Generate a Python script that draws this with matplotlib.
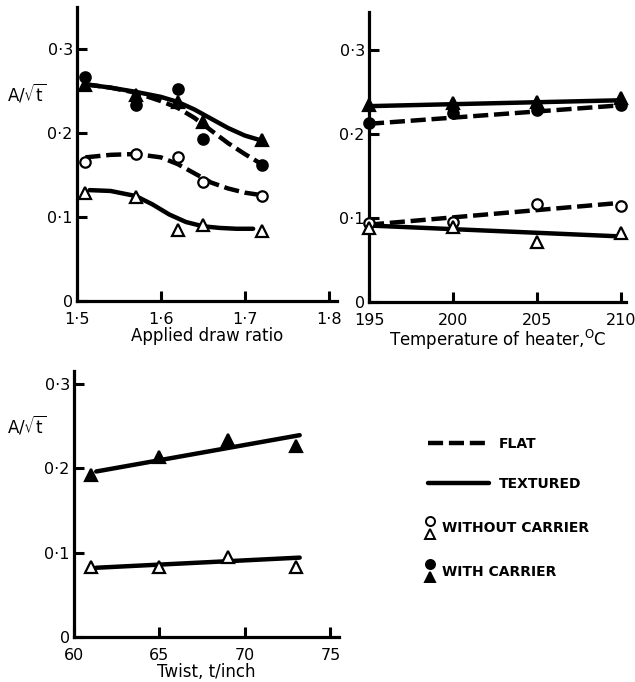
import matplotlib
matplotlib.use("Agg")
import matplotlib.pyplot as plt
from matplotlib.lines import Line2D
from matplotlib.legend_handler import HandlerBase

W, H = 635, 682

# --- applied draw ratio (top left) ---
draw_ratio = [1.51, 1.57, 1.62, 1.65, 1.72]
draw_flat_with = [0.267, 0.233, 0.252, 0.193, 0.162]      # filled circles
draw_tex_with = [0.257, 0.245, 0.237, 0.213, 0.192]       # filled triangles
draw_flat_without = [0.165, 0.175, 0.171, 0.142, 0.125]   # open circles
draw_tex_without = [0.129, 0.124, 0.085, 0.090, 0.083]    # open triangles
# hand-drawn curves
curve_x = [1.51, 1.54, 1.57, 1.60, 1.62, 1.64, 1.66, 1.68, 1.70, 1.72]
curve_tex_with = [0.258, 0.254, 0.249, 0.243, 0.237, 0.228, 0.217, 0.206, 0.197, 0.191]
curve_flat_with = [0.258, 0.254, 0.248, 0.238, 0.230, 0.218, 0.203, 0.188, 0.175, 0.163]
curve_flat_without = [0.171, 0.174, 0.175, 0.171, 0.163, 0.152, 0.141, 0.134, 0.129, 0.126]
curve_tex_without_x = [1.515, 1.54, 1.57, 1.59, 1.61, 1.63, 1.65, 1.67, 1.69, 1.71]
curve_tex_without = [0.132, 0.131, 0.125, 0.115, 0.103, 0.094, 0.089, 0.087, 0.086, 0.086]

# --- heater temperature (top right) ---
temp = [195, 200, 205, 210]
temp_tex_with = [0.234, 0.237, 0.238, 0.243]
temp_flat_with = [0.213, 0.225, 0.229, 0.234]
temp_flat_without = [0.094, 0.095, 0.117, 0.114]
temp_tex_without = [0.088, 0.089, 0.071, 0.082]
temp_fit_x = [195, 210]
temp_fit_tex_with = [0.233, 0.240]
temp_fit_flat_with = [0.212, 0.234]
temp_fit_flat_without = [0.092, 0.118]
temp_fit_tex_without = [0.091, 0.078]

# --- twist (bottom left) ---
twist = [61, 65, 69, 73]
twist_tex_with = [0.192, 0.213, 0.233, 0.226]
twist_tex_without = [0.083, 0.083, 0.095, 0.083]
twist_fit_x = [61.3, 73.2]
twist_fit_tex_with = [0.196, 0.239]
twist_fit_tex_without = [0.082, 0.094]

y_ticks = [0, 0.1, 0.2, 0.3]
y_ticklabels = ["0", "0\u00b71", "0\u00b72", "0\u00b73"]

plt.rcParams["font.family"] = ["DejaVu Sans"]
plt.rcParams["mathtext.fontset"] = "dejavusans"

LW = 3.2
DASH = (3.4, 1.3)
SOLID = dict(color="black", lw=LW, solid_capstyle="round", zorder=2)
DASHED = dict(color="black", lw=LW, dashes=DASH, dash_capstyle="butt", zorder=2)


def pts(ax, x, y, marker, filled):
    ms = 7.5 if marker == "o" else 8.5
    ax.plot(x, y, ls="none", marker=marker, ms=ms, mew=1.6, mec="black",
            mfc=("black" if filled else "white"), zorder=3, clip_on=False)


def panel(left, bottom, right, top, xlim, ylim, xticks, xticklabels, xlabel):
    ax = fig.add_axes([left / W, 1 - bottom / H, (right - left) / W, (bottom - top) / H])
    ax.set_xlim(*xlim)
    ax.set_ylim(*ylim)
    for s in ("top", "right"):
        ax.spines[s].set_visible(False)
    for s in ("left", "bottom"):
        ax.spines[s].set_linewidth(2.3)
    ax.set_yticks(y_ticks, y_ticklabels)
    ax.set_xticks(xticks, xticklabels)
    ax.tick_params(direction="in", length=7, width=2.2, labelsize=11.5)
    ax.tick_params(axis="y", pad=3)
    ax.tick_params(axis="x", pad=8)
    ax.set_xlabel(xlabel, fontsize=12, labelpad=0)
    ax.patch.set_alpha(0)
    return ax


fig = plt.figure(figsize=(W / 100, H / 100), dpi=100)

# top left
ax1 = panel(77, 301, 337, 7, (1.5, 1.81), (0, 0.35),
            [1.5, 1.6, 1.7, 1.8], ["1\u00b75", "1\u00b76", "1\u00b77", "1\u00b78"],
            "Applied draw ratio")
ax1.plot(curve_x, curve_tex_with, **SOLID)
ax1.plot(curve_x, curve_flat_with, **DASHED)
ax1.plot(curve_x, curve_flat_without, **DASHED)
ax1.plot(curve_tex_without_x, curve_tex_without, **SOLID)
pts(ax1, draw_ratio, draw_flat_with, "o", True)
pts(ax1, draw_ratio, draw_tex_with, "^", True)
pts(ax1, draw_ratio, draw_flat_without, "o", False)
pts(ax1, draw_ratio, draw_tex_without, "^", False)

# top right
ax2 = panel(369, 302, 626, 12, (195, 210.3), (0, 0.345),
            [195, 200, 205, 210], ["195", "200", "205", "210"],
            "Temperature of heater,$^{\\rm O}$C")
ax2.plot(temp_fit_x, temp_fit_tex_with, **SOLID)
ax2.plot(temp_fit_x, temp_fit_flat_with, **DASHED)
ax2.plot(temp_fit_x, temp_fit_flat_without, **DASHED)
ax2.plot(temp_fit_x, temp_fit_tex_without, **SOLID)
pts(ax2, temp, temp_flat_with, "o", True)
pts(ax2, temp, temp_tex_with, "^", True)
pts(ax2, temp, temp_flat_without, "o", False)
pts(ax2, temp, temp_tex_without, "^", False)

# bottom left
ax3 = panel(74, 637, 339, 371, (60, 75.5), (0, 0.315),
            [60, 65, 70, 75], ["60", "65", "70", "75"], "Twist, t/inch")
ax3.plot(twist_fit_x, twist_fit_tex_with, **SOLID)
ax3.plot(twist_fit_x, twist_fit_tex_without, **SOLID)
pts(ax3, twist, twist_tex_with, "^", True)
pts(ax3, twist, twist_tex_without, "^", False)

for yc in (93, 425):
    fig.text(27 / W, 1 - yc / H, r"A/$\sqrt{\mathrm{t}}$", fontsize=12,
             ha="center", va="center")


class StackHandler(HandlerBase):
    # circle above triangle, as in the printed key
    def create_artists(self, legend, orig, xd, yd, width, height, fontsize, trans):
        fc = orig.get_markerfacecolor()
        cx = -xd + width / 2
        cy = -yd + height / 2
        top = Line2D([cx], [cy + 0.5 * fontsize], ls="none", marker="o", ms=6.5,
                     mew=1.4, mec="black", mfc=fc, transform=trans)
        bot = Line2D([cx], [cy - 0.45 * fontsize], ls="none", marker="^", ms=7.5,
                     mew=1.4, mec="black", mfc=fc, transform=trans)
        return [top, bot]


line_handles = [Line2D([], [], **DASHED), Line2D([], [], **SOLID)]
leg1 = fig.legend(line_handles, ["FLAT", "TEXTURED"], loc="center left",
                  bbox_to_anchor=(428 / W, 1 - 464 / H), frameon=False,
                  handlelength=4.4, handletextpad=0.7, labelspacing=1.9,
                  borderpad=0, borderaxespad=0,
                  prop=dict(size=10, weight="bold"))

open_h = Line2D([], [], marker="o", mfc="white")
fill_h = Line2D([], [], marker="o", mfc="black")
leg2 = fig.legend([open_h, fill_h], ["WITHOUT CARRIER", "WITH CARRIER"],
                  loc="center left", bbox_to_anchor=(424 / W, 1 - 550 / H),
                  frameon=False, handlelength=0.9, handletextpad=0.4,
                  labelspacing=2.1, borderpad=0, borderaxespad=0,
                  handler_map={open_h: StackHandler(), fill_h: StackHandler()},
                  prop=dict(size=10, weight="bold"))

fig.savefig("out.png", dpi=100)
